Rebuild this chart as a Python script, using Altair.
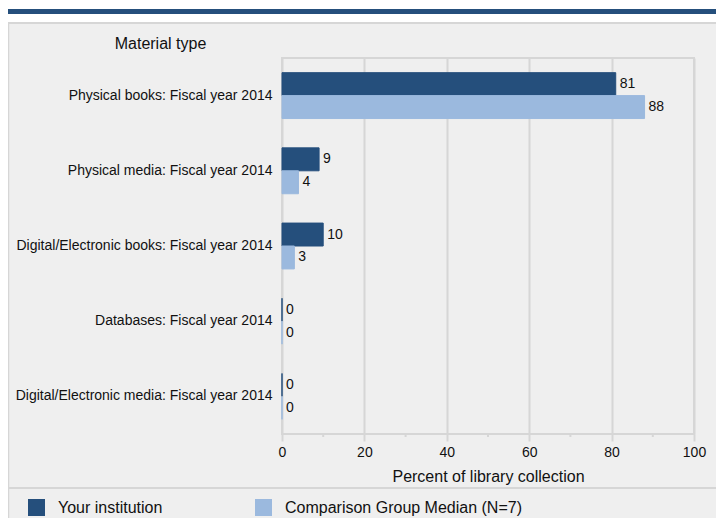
import altair as alt
import pandas as pd

categories = [
    "Physical books: Fiscal year 2014",
    "Physical media: Fiscal year 2014",
    "Digital/Electronic books: Fiscal year 2014",
    "Databases: Fiscal year 2014",
    "Digital/Electronic media: Fiscal year 2014",
]
series_names = ["Your institution", "Comparison Group Median (N=7)"]
your_values = [81, 9, 10, 0, 0]
comp_values = [88, 4, 3, 0, 0]
x_ticks = [0, 20, 40, 60, 80, 100]
minor_ticks = [10, 30, 50, 70, 90]
colors = ["#254f7c", "#9bb9de"]

rows = []
for c, a, b in zip(categories, your_values, comp_values):
    rows.append({"category": c, "series": series_names[0], "value": a})
    rows.append({"category": c, "series": series_names[1], "value": b})
df = pd.DataFrame(rows)

FONT = "Liberation Sans"
GRID = "#d6d6d6"
W, H = 412, 376

color_scale = alt.Scale(domain=series_names, range=colors)

y_enc = alt.Y(
    "category:N",
    sort=categories,
    scale=alt.Scale(paddingInner=0.39, paddingOuter=0.195),
    axis=alt.Axis(
        title="Material type", titleAngle=0, titleX=-122, titleY=-15,
        titleAlign="center", titleBaseline="middle", titleFontWeight="normal",
        titleFontSize=16, titleColor="#111", labelFontSize=14, labelColor="#111",
        labelPadding=10, ticks=False, domain=False, grid=False, labelLimit=300,
    ),
)
x_enc = alt.X(
    "value:Q",
    scale=alt.Scale(domain=[0, 100], nice=False),
    axis=alt.Axis(
        values=x_ticks, tickSize=7, tickColor=GRID, tickWidth=2,
        gridColor=GRID, gridWidth=2, domain=False, labelFontSize=14,
        labelColor="#111", labelPadding=4, labelFlush=False,
        title="Percent of library collection", titleFontSize=16,
        titleFontWeight="normal", titleColor="#111", titlePadding=9,
    ),
)
yoff = alt.YOffset("series:N", sort=series_names, scale=alt.Scale(paddingInner=0, paddingOuter=0))

base = alt.Chart(df)

bars = base.mark_bar(strokeWidth=1).encode(
    x=x_enc,
    y=y_enc,
    yOffset=yoff,
    color=alt.Color(
        "series:N", scale=color_scale, sort=series_names,
        legend=alt.Legend(
            title=None, orient="none", legendX=-254, legendY=441,
            direction="horizontal", columns=2, columnPadding=92,
            symbolType="square", symbolSize=289, symbolStrokeWidth=0,
            labelFontSize=16, labelColor="#111", labelOffset=13,
            labelLimit=400,
        ),
    ),
    stroke=alt.Stroke("series:N", scale=color_scale, legend=None),
)

labels = base.mark_text(align="left", baseline="middle", dx=4, fontSize=14, color="#111").encode(
    x=x_enc,
    y=y_enc,
    yOffset=yoff,
    text=alt.Text("value:Q"),
)

minor_df = pd.DataFrame({"value": minor_ticks})
minor = alt.Chart(minor_df).mark_rule(color=GRID, strokeWidth=2).encode(
    x=x_enc,
    y=alt.value(H),
    y2=alt.value(H + 3),
)

one = pd.DataFrame({"d": [0]})
white_strip = alt.Chart(one).mark_rect(color="white").encode(
    x=alt.value(-274), x2=alt.value(442), y=alt.value(-50), y2=alt.value(-36)
)
blue_band = alt.Chart(one).mark_rect(color="#254f7c").encode(
    x=alt.value(-274), x2=alt.value(442), y=alt.value(-49), y2=alt.value(-44)
)
top_border = alt.Chart(one).mark_rule(color=GRID, strokeWidth=2).encode(
    x=alt.value(-274), x2=alt.value(442), y=alt.value(-35)
)
left_border = alt.Chart(one).mark_rule(color=GRID, strokeWidth=1.5).encode(
    x=alt.value(-273.5), y=alt.value(-35), y2=alt.value(470)
)
separator = alt.Chart(one).mark_rule(color=GRID, strokeWidth=2).encode(
    x=alt.value(-274), x2=alt.value(442), y=alt.value(430)
)

chart = alt.layer(
    white_strip, blue_band, top_border, left_border, separator, bars, labels, minor
).properties(
    width=W, height=H,
    autosize=alt.AutoSizeParams(type="none"),
    padding={"left": 274, "top": 50, "right": 22, "bottom": 84},
    background="#efefef",
).configure(font=FONT).configure_view(stroke=GRID, strokeWidth=2, fill="#efefef")

chart.save("out.html", embed_options={"renderer": "svg", "actions": False})
